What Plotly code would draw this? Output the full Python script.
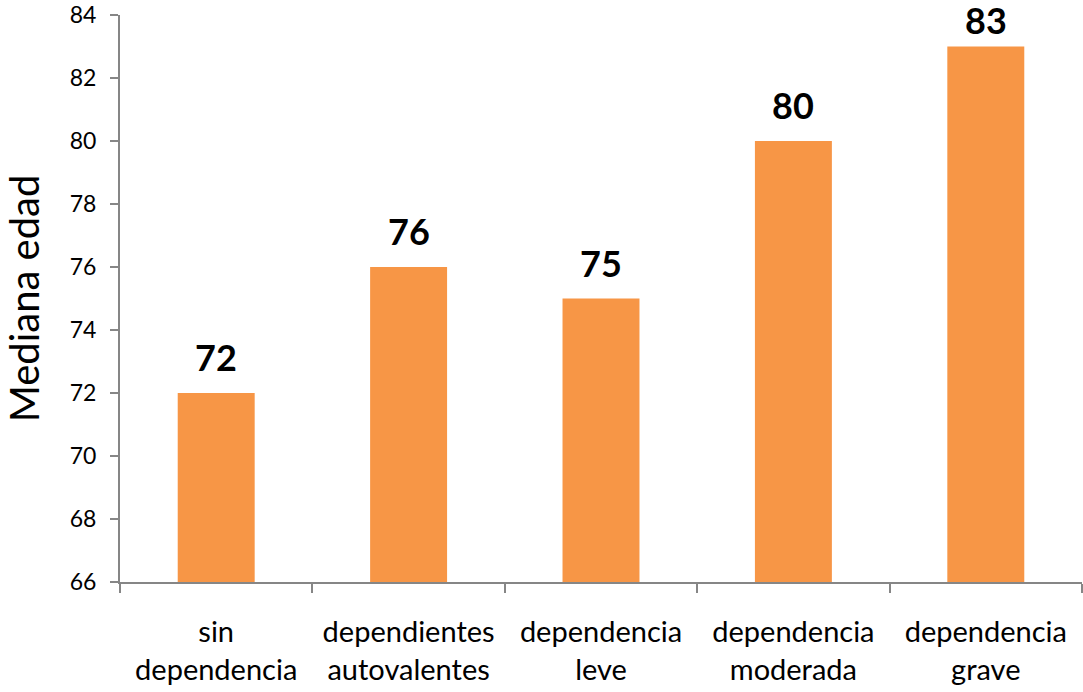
import plotly.graph_objects as go

categories = ["sin<br>dependencia", "dependientes<br>autovalentes", "dependencia<br>leve",
              "dependencia<br>moderada", "dependencia<br>grave"]
median_age = [72, 76, 75, 80, 83]
y_ticks = [66, 68, 70, 72, 74, 76, 78, 80, 82, 84]

font_family = "Lato, 'Open Sans', sans-serif"
bar_color = "#F79646"
axis_color = "#868686"
y_min, y_max = 66, 84

fig = go.Figure()
fig.add_trace(go.Bar(
    x=categories,
    y=median_age,
    marker=dict(color=bar_color, line=dict(width=0)),
    hoverinfo="x+y",
))

# value labels above each bar; the label closest to the top edge is nudged down so it stays on the page
for cat, val in zip(categories, median_age):
    shift = 12 if (y_max - val) > 1.5 else 3
    fig.add_annotation(
        x=cat, y=val, text=f"<b>{val}</b>", showarrow=False,
        yanchor="bottom", yshift=shift,
        font=dict(family=font_family, size=36, color="black"),
    )

fig.update_layout(
    width=1083, height=692,
    margin=dict(l=120, r=1, t=15, b=110),
    paper_bgcolor="white", plot_bgcolor="white",
    bargap=0.6,
    showlegend=False,
    font=dict(family=font_family, color="black"),
)
fig.update_xaxes(
    type="category",
    showline=True, linecolor=axis_color, linewidth=2,
    ticks="outside", tickson="boundaries", ticklen=9, tickcolor=axis_color, tickwidth=2,
    tickfont=dict(size=29, color="black"),
    ticklabelstandoff=23,
    showgrid=False,
)
fig.update_yaxes(
    range=[y_min, y_max], tickvals=y_ticks,
    showline=True, linecolor=axis_color, linewidth=2,
    ticks="outside", ticklen=8, tickcolor=axis_color, tickwidth=2,
    tickfont=dict(size=23, color="black"),
    ticklabelstandoff=9,
    showgrid=False, zeroline=False,
    title=dict(text="Mediana edad", font=dict(size=40, color="black"), standoff=26),
)

fig.write_html("out.html")
